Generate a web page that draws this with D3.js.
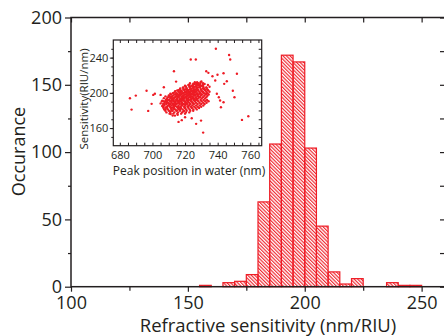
<!DOCTYPE html>
<html>
<head>
<meta charset="utf-8">
<script src="https://cdn.jsdelivr.net/npm/d3@7"></script>
<style>
  html, body { margin: 0; padding: 0; background: #fff; }
  svg { display: block; }
  text { font-family: "Open Sans", sans-serif; fill: #231f20; }
</style>
</head>
<body>
<div id="chart"></div>
<script>
// histogram bins (left edge, nm/RIU) and counts
const binStarts = [155, 160, 165, 170, 175, 180, 185, 190, 195, 200, 205, 210, 215, 220, 225, 230, 235, 240, 245];
const binCounts = [1, 0, 3, 4, 9, 63, 106, 172, 167, 103, 45, 11, 2, 6, 0, 0, 3, 1, 1];
const binWidth = 5;

const xMajorTicks = [100, 150, 200, 250];
const xMinorTicks = [125, 175, 225];
const yMajorTicks = [0, 50, 100, 150, 200];
const yMinorTicks = [25, 75, 125, 175];

// inset scatter: [peak position (nm), sensitivity (RIU/nm)]
const insetPoints = [
  [738.9, 250], [723.5, 237.8], [726.6, 237.8], [747, 243], [747.7, 237.8], [713.2, 224.5], [733, 224.5],
  [734.3, 222.7], [751.8, 221.6], [743.6, 222.3], [739.9, 220.5], [714.5, 212.8], [736.8, 218.9], [738.5, 214],
  [745.6, 213.2], [744, 210.2], [749.3, 202.3], [750.3, 195], [686.2, 193.9], [689.8, 196.9], [687.2, 181],
  [696.4, 202.3], [697.4, 179.5], [699.5, 187.5], [700.5, 197.7], [701.5, 198.9], [707, 206.4], [705, 197.7],
  [705.7, 190.1], [739.5, 198.9], [740.7, 195], [741.5, 191.3], [743.6, 189.3], [742, 183.6], [754.9, 169.3],
  [758.8, 173.4], [726.8, 164.8], [729.8, 168.5], [731.1, 154.9], [724.1, 171.2], [720, 172.3], [712.4, 174.2],
  [713.8, 174.2], [711.2, 176], [715.5, 175], [716, 167], [718, 169],
  [708, 181], [711, 179], [713, 182], [715, 180], [717, 181], [719, 179], [712, 180], [716, 182],
  [706, 185], [709, 184], [710, 186], [712, 183], [714, 185], [716, 184], [718, 186], [720, 183], [722, 185],
  [708, 183], [713, 186], [717, 183],
  [705, 188], [707, 187], [709, 189], [711, 187], [713, 188], [714, 187], [716, 189], [718, 188], [719, 187],
  [721, 189], [723, 187], [725, 188], [710, 188], [715, 188], [720, 187],
  [706, 191], [708, 190], [710, 192], [711, 190], [712, 191], [714, 190], [715, 192], [717, 190], [718, 191],
  [719, 192], [720, 190], [722, 191], [724, 190], [726, 192], [709, 191], [713, 192], [716, 191], [721, 192],
  [707, 194], [709, 193], [711, 195], [712, 193], [713, 194], [715, 193], [716, 195], [717, 193], [718, 194],
  [719, 193], [720, 195], [721, 194], [722, 193], [723, 195], [725, 194], [727, 193], [729, 195], [714, 195],
  [718, 192], [724, 193],
  [708, 196], [710, 197], [712, 196], [714, 198], [715, 196], [716, 197], [717, 198], [718, 196], [719, 197],
  [720, 198], [721, 196], [722, 197], [723, 198], [724, 196], [726, 197], [728, 196], [730, 198], [719, 195],
  [725, 198],
  [711, 199], [713, 200], [715, 199], [717, 201], [718, 199], [719, 200], [720, 201], [721, 199], [722, 200],
  [723, 201], [724, 199], [725, 200], [726, 201], [727, 199], [729, 200], [731, 201], [733, 199], [721, 201],
  [728, 198],
  [714, 202], [716, 203], [718, 202], [720, 204], [721, 202], [722, 203], [723, 204], [724, 202], [725, 203],
  [726, 204], [727, 202], [728, 203], [730, 202], [732, 204], [734, 203], [725, 201],
  [717, 205], [719, 206], [721, 205], [723, 207], [724, 205], [725, 206], [726, 207], [727, 205], [728, 206],
  [729, 207], [731, 205], [733, 206], [735, 207],
  [720, 208], [722, 209], [724, 208], [726, 210], [727, 208], [728, 209], [730, 208], [732, 210], [734, 209],
  [723, 211], [726, 212], [728, 211], [730, 213], [731, 211]
];

// dense core of the inset cloud, read row by row: [sensitivity, [peak positions...]]
const clusterRows = [
  [176.4, [710.5, 712.8, 715.2, 717.6, 720.0]],
  [177.8, [708.6, 710.9, 713.4, 715.7, 718.2, 720.5, 722.6]],
  [179.6, [707.9, 710.1, 712.4, 714.6, 716.9, 719.3, 721.0, 723.2, 725.0]],
  [181.2, [707.2, 709.5, 711.6, 713.9, 716.3, 718.5, 720.7, 722.8, 725.1, 727.2]],
  [182.8, [706.8, 709.0, 711.2, 713.3, 715.5, 717.6, 719.8, 722.1, 724.2, 726.5, 728.6]],
  [184.2, [706.5, 708.7, 710.8, 712.9, 715.0, 717.2, 719.4, 721.5, 723.6, 725.6, 727.8, 729.9]],
  [185.7, [707.3, 709.6, 711.7, 713.8, 716.0, 718.1, 720.2, 722.4, 724.5, 726.8, 729.0, 731.2]],
  [187.4, [706.6, 708.4, 710.5, 712.6, 714.7, 716.8, 719.0, 721.2, 723.3, 725.4, 727.7, 729.9, 732.0]],
  [188.8, [707.5, 709.6, 711.8, 713.9, 716.1, 718.2, 720.3, 722.5, 724.6, 726.7, 728.9, 731.1, 733.2]],
  [190.5, [707.0, 708.9, 711.0, 713.2, 715.3, 717.4, 719.6, 721.7, 723.8, 726.0, 728.1, 730.2, 732.4, 734.4]],
  [191.9, [708.2, 710.3, 712.4, 714.5, 716.6, 718.8, 720.9, 723.1, 725.2, 727.3, 729.5, 731.4, 733.5]],
  [193.6, [708.8, 711.0, 713.1, 715.2, 717.4, 719.5, 721.6, 723.8, 725.9, 728.0, 730.2, 732.3]],
  [195.1, [709.6, 711.8, 713.9, 716.0, 718.2, 720.3, 722.4, 724.6, 726.7, 728.8, 731.0, 733.0]],
  [196.7, [710.4, 712.5, 714.7, 716.8, 718.9, 721.1, 723.2, 725.3, 727.5, 729.6, 731.8, 733.7]],
  [198.2, [711.3, 713.4, 715.6, 717.7, 719.8, 722.0, 724.1, 726.2, 728.4, 730.5, 732.6, 734.5]],
  [199.6, [712.5, 714.6, 716.7, 718.9, 721.0, 723.1, 725.3, 727.4, 729.5, 731.7, 733.8]],
  [201.3, [713.8, 715.9, 718.0, 720.2, 722.3, 724.4, 726.6, 728.7, 730.8, 733.0, 735.0]],
  [202.8, [715.2, 717.3, 719.5, 721.6, 723.7, 725.9, 728.0, 730.1, 732.3, 734.2]],
  [204.2, [716.9, 719.0, 721.1, 723.3, 725.4, 727.5, 729.7, 731.8, 733.6]],
  [205.9, [718.6, 720.8, 722.9, 725.0, 727.2, 729.3, 731.4, 733.2]],
  [207.3, [720.5, 722.6, 724.8, 726.9, 729.0, 731.1]],
  [209.0, [722.7, 724.9, 727.0, 729.1, 731.0]],
  [210.4, [725.0, 727.2, 729.3]],
  [212.1, [727.4, 729.5]]
];

const insetXLabels = [680, 700, 720, 740, 760];
const insetYLabels = [160, 200, 240];

const red = '#ee1c25';
const ink = '#231f20';

const W = 444, H = 336;
const svg = d3.select('#chart').append('svg')
  .attr('width', W)
  .attr('height', H);

// hatch pattern for bars
svg.append('defs').append('pattern')
  .attr('id', 'hatch')
  .attr('patternUnits', 'userSpaceOnUse')
  .attr('width', 2.5)
  .attr('height', 10)
  .attr('patternTransform', 'rotate(-45)')
  .append('line')
  .attr('x1', 0.6).attr('x2', 0.6)
  .attr('y1', 0).attr('y2', 10)
  .attr('stroke', red)
  .attr('stroke-width', 1.1);

const x = d3.scaleLinear().domain([100, 260]).range([71, 445]);
const y = d3.scaleLinear().domain([0, 200]).range([286.7, 17.5]);

// bars
const bins = binStarts.map((b, i) => ({ x0: b, x1: b + binWidth, n: binCounts[i] })).filter(d => d.n > 0);
svg.append('g').selectAll('rect')
  .data(bins)
  .join('rect')
  .attr('x', d => x(d.x0))
  .attr('y', d => y(d.n))
  .attr('width', d => x(d.x1) - x(d.x0))
  .attr('height', d => y(0) - y(d.n))
  .attr('fill', 'url(#hatch)')
  .attr('stroke', red)
  .attr('stroke-width', 1.2);

function styleAxis(g, size) {
  g.select('.domain').remove();
  g.selectAll('line').attr('stroke', ink).attr('stroke-width', 1.2);
  g.selectAll('text').filter(function () { return this.textContent === ''; }).remove();
  g.selectAll('text').attr('font-size', size).attr('font-family', '"Open Sans", sans-serif').attr('fill', ink);
}

// main axes
svg.append('g').attr('transform', `translate(0,${y(0)})`)
  .call(d3.axisBottom(x).tickValues(xMajorTicks).tickSize(5).tickPadding(5).tickFormat(d3.format('d')))
  .call(g => styleAxis(g, 18));
svg.append('g').attr('transform', `translate(0,${y(0)})`)
  .call(d3.axisBottom(x).tickValues(xMinorTicks).tickSize(4).tickFormat(''))
  .call(g => styleAxis(g, 18));
svg.append('g').attr('transform', `translate(${x(100)},0)`)
  .call(d3.axisLeft(y).tickValues(yMajorTicks).tickSize(6).tickPadding(3))
  .call(g => styleAxis(g, 18));
svg.append('g').attr('transform', `translate(${x(100)},0)`)
  .call(d3.axisLeft(y).tickValues(yMinorTicks).tickSize(3).tickFormat(''))
  .call(g => styleAxis(g, 18));
svg.append('g').attr('transform', `translate(0,${y(200)})`)
  .call(d3.axisTop(x).tickValues(xMajorTicks.concat(xMinorTicks)).tickSize(-5).tickFormat(''))
  .call(g => styleAxis(g, 18));
svg.append('g').attr('transform', `translate(${x(260)},0)`)
  .call(d3.axisRight(y).tickValues(yMajorTicks.concat(yMinorTicks)).tickSize(-5).tickFormat(''))
  .call(g => styleAxis(g, 18));

svg.append('rect')
  .attr('x', x(100)).attr('y', y(200))
  .attr('width', x(260) - x(100)).attr('height', y(0) - y(200))
  .attr('fill', 'none').attr('stroke', ink).attr('stroke-width', 1.5);

// axis titles
svg.append('text')
  .attr('x', 268).attr('y', 332)
  .attr('text-anchor', 'middle')
  .attr('font-size', 18.5)
  .text('Refractive sensitivity (nm/RIU)');

svg.append('text')
  .attr('transform', 'translate(25,151.5) rotate(-90)')
  .attr('text-anchor', 'middle')
  .attr('font-size', 18)
  .text('Occurance');

// inset
const xi = d3.scaleLinear().domain([676, 767]).range([113.3, 261.7]);
const yi = d3.scaleLinear().domain([140, 260]).range([145.7, 40]);
const inset = svg.append('g');

inset.append('rect')
  .attr('x', xi(676)).attr('y', yi(260))
  .attr('width', xi(767) - xi(676)).attr('height', yi(140) - yi(260))
  .attr('fill', '#fff');

const allPoints = insetPoints.concat(clusterRows.flatMap(([s, nms]) => nms.map(nm => [nm, s])));

inset.append('g').selectAll('circle')
  .data(allPoints)
  .join('circle')
  .attr('cx', d => xi(d[0]))
  .attr('cy', d => yi(d[1]))
  .attr('r', 1.2)
  .attr('fill', red);

const nmTicks = d3.range(680, 767, 5);
const sTicks = d3.range(150, 260, 10);

function styleInset(g) {
  g.select('.domain').remove();
  g.selectAll('line').attr('stroke', ink).attr('stroke-width', 1);
  g.selectAll('text').filter(function () { return this.textContent === ''; }).remove();
  g.selectAll('text').attr('font-size', 11).attr('font-family', '"Open Sans", sans-serif').attr('fill', ink);
}

inset.append('g').attr('transform', `translate(0,${yi(140)})`)
  .call(d3.axisBottom(xi).tickValues(insetXLabels).tickSize(0).tickPadding(6).tickFormat(d3.format('d')))
  .call(styleInset);
inset.append('g').attr('transform', `translate(0,${yi(140)})`)
  .call(d3.axisBottom(xi).tickValues(nmTicks).tickSize(-3).tickFormat(''))
  .call(styleInset);
inset.append('g').attr('transform', `translate(0,${yi(260)})`)
  .call(d3.axisTop(xi).tickValues(nmTicks).tickSize(-3).tickFormat(''))
  .call(styleInset);
inset.append('g').attr('transform', `translate(${xi(676)},0)`)
  .call(d3.axisLeft(yi).tickValues(insetYLabels).tickSize(3.5).tickPadding(1.5).tickFormat(d3.format('d')))
  .call(styleInset);
inset.append('g').attr('transform', `translate(${xi(676)},0)`)
  .call(d3.axisLeft(yi).tickValues(sTicks).tickSize(2).tickFormat(''))
  .call(styleInset);
inset.append('g').attr('transform', `translate(${xi(767)},0)`)
  .call(d3.axisRight(yi).tickValues(sTicks).tickSize(-3).tickFormat(''))
  .call(styleInset);

inset.append('rect')
  .attr('x', xi(676)).attr('y', yi(260))
  .attr('width', xi(767) - xi(676)).attr('height', yi(140) - yi(260))
  .attr('fill', 'none').attr('stroke', ink).attr('stroke-width', 1.2);

inset.append('text')
  .attr('x', 189).attr('y', 175)
  .attr('text-anchor', 'middle')
  .attr('font-size', 12)
  .text('Peak position in water (nm)');

inset.append('text')
  .attr('transform', 'translate(88,99) rotate(-90)')
  .attr('text-anchor', 'middle')
  .attr('font-size', 11.5)
  .text('Sensitivity(RIU/nm)');
</script>
</body>
</html>
